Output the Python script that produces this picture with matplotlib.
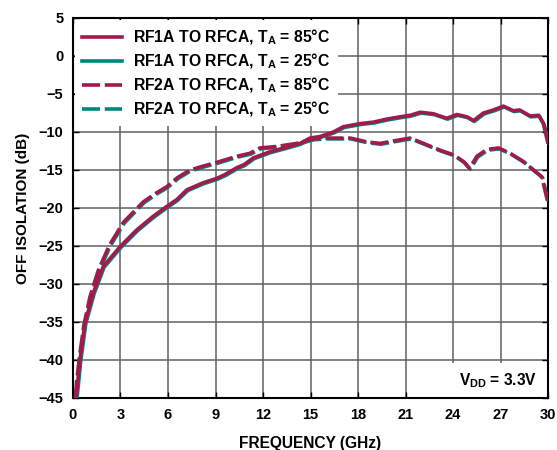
import numpy as np
import matplotlib
matplotlib.use('Agg')
import matplotlib.pyplot as plt
import matplotlib.transforms as mtransforms
from matplotlib.patches import Rectangle

# frequency (GHz) / off isolation (dB)
rf1a_freq = [0.2, 0.44, 0.76, 1.28, 1.91, 2.97, 4.02, 5.0, 5.92, 6.55, 7.2, 8.2,
             9.08, 9.6, 10.34, 10.8, 11.39, 12.44, 13.5, 14.34, 14.97, 15.6, 16.44,
             17.08, 18.13, 18.97, 19.82, 20.66, 21.3, 21.92, 22.76, 23.6, 24.24,
             24.87, 25.29, 25.92, 26.55, 27.18, 27.8, 28.2, 28.87, 29.4, 29.7, 29.97]
rf1a_db = [-45.0, -40.0, -35.1, -31.2, -27.7, -25.1, -22.9, -21.2, -19.8, -18.9,
           -17.6, -16.7, -16.1, -15.6, -14.7, -14.3, -13.4, -12.6, -12.0, -11.5,
           -10.8, -10.6, -10.0, -9.3, -8.9, -8.7, -8.3, -8.0, -7.8, -7.4, -7.6,
           -8.2, -7.7, -8.0, -8.5, -7.5, -7.1, -6.6, -7.2, -7.1, -7.9, -7.8, -8.9, -11.3]

rf2a_freq = [0.15, 0.23, 0.44, 0.69, 1.07, 1.6, 2.3, 3.18, 4.02, 4.44, 5.2, 5.92,
             6.6, 7.39, 8.2, 9.08, 10.34, 11.18, 11.8, 12.87, 14.13, 15.18, 16.02,
             17.5, 18.55, 19.39, 20.45, 21.29, 22.13, 23.18, 24.02, 24.66, 25.04,
             25.5, 26.13, 26.87, 27.6, 28.45, 29.08, 29.6, 30.0]
rf2a_db = [-45.0, -42.8, -39.1, -35.4, -31.7, -28.2, -24.9, -21.9, -20.1, -19.2,
           -18.1, -17.2, -16.0, -15.0, -14.5, -14.0, -13.2, -12.8, -12.1, -11.9,
           -11.5, -10.9, -10.8, -10.8, -11.3, -11.5, -11.1, -10.8, -11.5, -12.4,
           -13.0, -13.9, -14.8, -13.2, -12.3, -12.1, -12.8, -13.9, -15.0, -15.9, -19.4]

x_ticks = np.arange(0, 31, 3)
y_ticks = np.arange(-45, 6, 5)

maroon = '#A01A4C'
teal = '#00877D'

plt.rcParams['font.family'] = ['Liberation Sans', 'DejaVu Sans']
plt.rcParams['font.weight'] = 'bold'
plt.rcParams['mathtext.fontset'] = 'custom'
plt.rcParams['mathtext.rm'] = 'Liberation Sans:bold'
plt.rcParams['mathtext.bf'] = 'Liberation Sans:bold'

fig = plt.figure(figsize=(5.57, 4.5), dpi=100)
ax = fig.add_axes([0.131, 0.1156, 0.853, 0.8444])

# teal traces sit just under the maroon ones
shift = mtransforms.offset_copy(ax.transData, fig=fig, x=0.6, y=-0.6, units='points')
dash = (5, 1.3)
ax.plot(rf1a_freq, rf1a_db, color=teal, lw=2.6, transform=shift, zorder=3,
        label=r'RF1A TO RFCA, T$_\mathrm{A}$ = 25°C')
ax.plot(rf1a_freq, rf1a_db, color=maroon, lw=2.6, zorder=4,
        label=r'RF1A TO RFCA, T$_\mathrm{A}$ = 85°C')
ax.plot(rf2a_freq, rf2a_db, color=teal, lw=2.6, dashes=dash, transform=shift, zorder=3,
        label=r'RF2A TO RFCA, T$_\mathrm{A}$ = 25°C')
ax.plot(rf2a_freq, rf2a_db, color=maroon, lw=2.6, dashes=dash, zorder=4,
        label=r'RF2A TO RFCA, T$_\mathrm{A}$ = 85°C')

ax.set_xlim(0, 30)
ax.set_ylim(-45, 5)
ax.set_xticks(x_ticks)
ax.set_yticks(y_ticks)
ax.grid(True, color='#606060', lw=1.1)
ax.tick_params(direction='in', length=4, width=1, top=True, right=True,
               labelsize=10.5, pad=7)
for s in ax.spines.values():
    s.set_linewidth(1.5)

ax.set_xlabel('FREQUENCY (GHz)', fontsize=11.2, fontweight='bold', labelpad=10)
ax.set_ylabel('OFF ISOLATION (dB)', fontsize=11, fontweight='bold', labelpad=6)

h, l = ax.get_legend_handles_labels()
order = [1, 0, 3, 2]
leg = ax.legend([h[i] for i in order], [l[i] for i in order], loc='upper left',
                fontsize=11.3, frameon=True, fancybox=False, framealpha=1,
                edgecolor='none', facecolor='white', handlelength=2.5,
                handletextpad=0.75, labelspacing=0.3, borderpad=0.45,
                borderaxespad=0.15)
leg.set_zorder(6)

ax.add_patch(Rectangle((0.73, 0.0), 0.27, 0.092, transform=ax.transAxes,
                       facecolor='white', edgecolor='none', zorder=1.6))
ax.text(0.977, 0.045, r'V$_\mathrm{DD}$ = 3.3V', transform=ax.transAxes,
        ha='right', va='center', fontsize=11.2, fontweight='bold', zorder=5)

fig.savefig('out.png', dpi=100)
